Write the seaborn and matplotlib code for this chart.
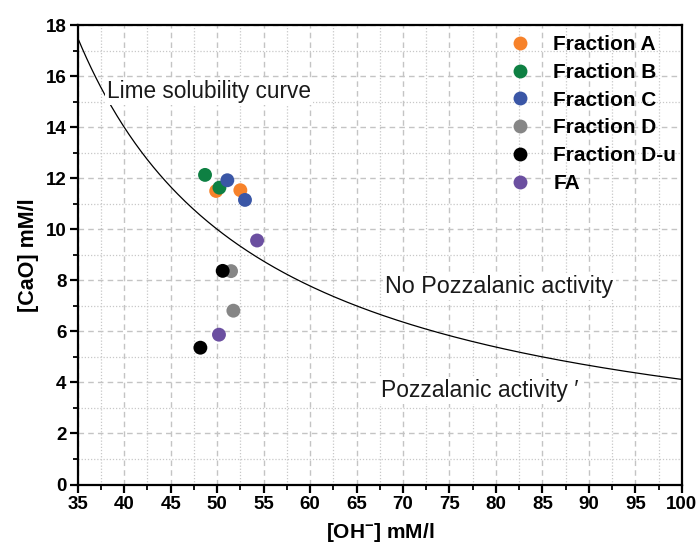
import numpy as np
import pandas as pd
import matplotlib
matplotlib.use("Agg")
import matplotlib.pyplot as plt
from matplotlib.ticker import MultipleLocator
import seaborn as sns

# ---- data ----
series = ["Fraction A", "Fraction A", "Fraction B", "Fraction B",
          "Fraction C", "Fraction C", "Fraction D", "Fraction D",
          "Fraction D-u", "Fraction D-u", "FA", "FA"]
oh_vals = [49.9, 52.5, 48.7, 50.25, 51.1, 53.0, 51.5, 51.75, 50.6, 48.2, 54.3, 50.2]
cao_vals = [11.5, 11.53, 12.13, 11.63, 11.92, 11.15, 8.36, 6.81, 8.37, 5.36, 9.56, 5.87]
hue_order = ["Fraction A", "Fraction B", "Fraction C", "Fraction D", "Fraction D-u", "FA"]
palette = ["#F7822A", "#0E8043", "#3A56A6", "#868686", "#000000", "#6B4FA0"]

# Lime solubility curve (EN 196-5): [CaO] = A / ([OH-] - B)
curve_A = 350.0
curve_B = 15.0

df = pd.DataFrame({"OH": oh_vals, "CaO": cao_vals, "series": series})
curve_x = np.linspace(35, 100, 400)
curve_df = pd.DataFrame({"OH": curve_x, "CaO": curve_A / (curve_x - curve_B)})

sns.set_style("white")
plt.rcParams["font.family"] = ["Liberation Sans", "DejaVu Sans"]
plt.rcParams["mathtext.fontset"] = "custom"
plt.rcParams["mathtext.rm"] = "Liberation Sans:bold"
plt.rcParams["mathtext.bf"] = "Liberation Sans:bold"
plt.rcParams["mathtext.it"] = "Liberation Sans:bold"
for key in ["text.color", "axes.labelcolor", "xtick.color", "ytick.color"]:
    plt.rcParams[key] = "black"

fig = plt.figure(figsize=(7.0, 5.45), dpi=100)
ax = fig.add_axes([0.111, 0.111, 0.863, 0.843])

sns.lineplot(data=curve_df, x="OH", y="CaO", color="black", linewidth=0.9, ax=ax,
             legend=False, zorder=2)
sns.scatterplot(data=df, x="OH", y="CaO", hue="series", hue_order=hue_order,
                palette=palette, s=100, linewidth=0, ax=ax, zorder=4)

ax.set_xlim(35, 100)
ax.set_ylim(0, 18)
ax.xaxis.set_major_locator(MultipleLocator(5))
ax.xaxis.set_minor_locator(MultipleLocator(2.5))
ax.yaxis.set_major_locator(MultipleLocator(2))
ax.yaxis.set_minor_locator(MultipleLocator(1))

ax.grid(True, which="major", color="#c4c4c4", linestyle=(0, (4, 3)), linewidth=1.0)
ax.grid(True, which="minor", color="#c8c8c8", linestyle=(0, (1, 1.5)), linewidth=0.9)
ax.set_axisbelow(True)

for sp in ax.spines.values():
    sp.set_linewidth(1.6)
    sp.set_color("black")

ax.tick_params(axis="both", which="major", direction="out", length=6, width=1.6,
               labelsize=13.5, bottom=True, left=True, top=False, right=False, pad=2,
               colors="black")
ax.tick_params(axis="both", which="minor", direction="out", length=3.5, width=1.3,
               bottom=True, left=True, top=False, right=False, colors="black")
for lab in ax.get_xticklabels() + ax.get_yticklabels():
    lab.set_fontweight("bold")

ax.set_xlabel(r"[OH$^{-}$] mM/l", fontsize=15, fontweight="bold", labelpad=6,
              color="black")
ax.set_ylabel("[CaO] mM/l", fontsize=15.5, fontweight="bold", labelpad=5,
              color="black")

box = dict(facecolor="white", edgecolor="none", pad=1.5)
ax.text(38.2, 15.4, "Lime solubility curve", fontsize=16.3, va="center", ha="left",
        color="#1a1a1a", bbox=box, zorder=3)
ax.text(68.1, 7.75, "No Pozzalanic activity", fontsize=16.8, va="center", ha="left",
        color="#1a1a1a", bbox=box, zorder=3)
ax.text(67.6, 3.7, "Pozzalanic activity \u2032", fontsize=16.5, va="center", ha="left",
        color="#1a1a1a", bbox=box, zorder=3)

leg = ax.legend(loc="upper right", bbox_to_anchor=(1.015, 1.01), frameon=False,
                prop={"weight": "bold", "size": 15}, handletextpad=0.6,
                labelspacing=0.42, borderaxespad=0.3, markerscale=1.0)
for t in leg.get_texts():
    t.set_color("black")
for h in leg.legend_handles:
    if hasattr(h, "set_markersize"):
        h.set_markersize(10)

fig.savefig("out.png", dpi=100)
